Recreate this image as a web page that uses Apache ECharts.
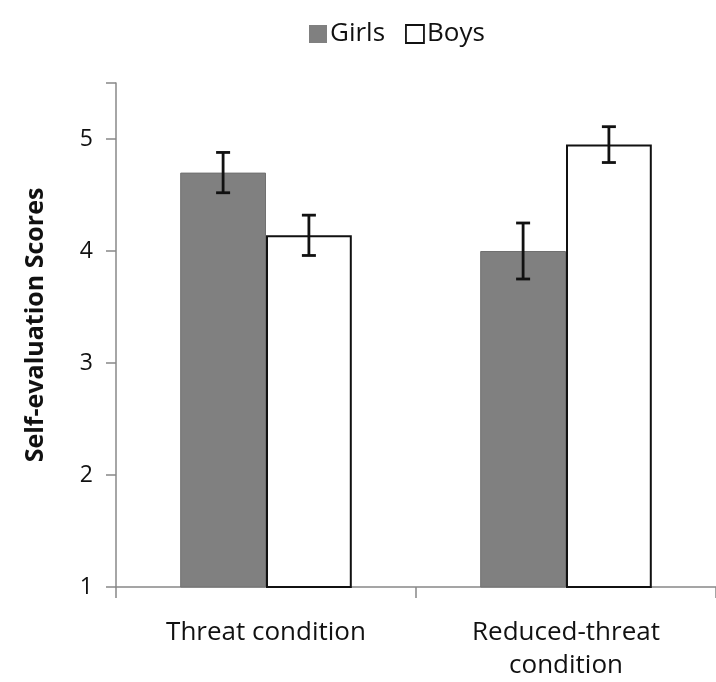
<!DOCTYPE html>
<html>
<head>
<meta charset="utf-8">
<script src="https://cdn.jsdelivr.net/npm/echarts@6/dist/echarts.min.js"></script>
<style>html,body{margin:0;padding:0;background:#fff;}#c{width:716px;height:682px;}</style>
</head>
<body>
<div id="c"></div>
<script>
var categories = ['Threat condition', 'Reduced-threat\ncondition'];
var girls = [4.70, 4.00];
var boys = [4.14, 4.95];
var girlsErr = [0.18, 0.25];
var boysErr = [0.18, 0.16];
var yTicks = [1, 2, 3, 4, 5];

var FONT = '"Open Sans", "Liberation Sans", sans-serif';
var BAR_FRAC = 0.286;

function errSeries(name, vals, errs, side) {
  return {
    type: 'custom',
    name: name + ' err',
    z: 10,
    silent: true,
    data: vals.map(function (v, i) { return [i, v - errs[i], v + errs[i]]; }),
    renderItem: function (params, api) {
      var i = api.value(0);
      var lo = api.coord([i, api.value(1)]);
      var hi = api.coord([i, api.value(2)]);
      var bw = api.size([1, 0])[0] * BAR_FRAC;
      var x = lo[0] + side * bw / 2;
      var cap = 7;
      var st = { stroke: '#111', lineWidth: 2.8 };
      return {
        type: 'group',
        children: [
          { type: 'line', shape: { x1: x, y1: lo[1], x2: x, y2: hi[1] }, style: st },
          { type: 'line', shape: { x1: x - cap, y1: lo[1], x2: x + cap, y2: lo[1] }, style: st },
          { type: 'line', shape: { x1: x - cap, y1: hi[1], x2: x + cap, y2: hi[1] }, style: st }
        ]
      };
    }
  };
}

var chart = echarts.init(document.getElementById('c'), null, { renderer: 'canvas' });
chart.setOption({
  animation: false,
  backgroundColor: '#fff',
  legend: {
    top: 16,
    left: 304,
    itemWidth: 18,
    itemHeight: 18,
    itemGap: 20,
    textStyle: { fontFamily: FONT, fontSize: 26, color: '#111', padding: [0, 0, 0, -2] },
    data: [
      { name: 'Girls', icon: 'rect', itemStyle: { color: '#808080', borderColor: '#808080', borderWidth: 0 } },
      { name: 'Boys', icon: 'rect', itemStyle: { color: '#fff', borderColor: '#111', borderWidth: 1.8 } }
    ]
  },
  grid: { left: 116, right: -4, top: 83, bottom: 88, containLabel: false },
  xAxis: {
    type: 'category',
    data: categories,
    axisLine: { lineStyle: { color: '#888', width: 1.5 } },
    axisTick: { show: true, length: 11, lineStyle: { color: '#888', width: 1.5 } },
    axisLabel: { fontFamily: FONT, fontSize: 26, color: '#111', margin: 29, lineHeight: 33 }
  },
  yAxis: {
    type: 'value',
    min: 1,
    max: 5.5,
    interval: 1,
    name: 'Self-evaluation Scores',
    nameLocation: 'middle',
    nameGap: 68,
    nameTextStyle: { fontFamily: FONT, fontSize: 25, fontWeight: 'bold', color: '#111', padding: [0, 0, 0, 20] },
    splitLine: { show: false },
    axisLine: { show: true, lineStyle: { color: '#888', width: 1.5 } },
    axisTick: { show: true, length: 10, lineStyle: { color: '#888', width: 1.5 } },
    axisLabel: {
      fontFamily: FONT, fontSize: 23, color: '#111', margin: 23,
      formatter: function (v) { return yTicks.indexOf(v) >= 0 ? String(v) : ''; }
    }
  },
  series: [
    {
      name: 'Girls', type: 'bar', data: girls, barWidth: (BAR_FRAC * 100) + '%', barGap: '0%',
      itemStyle: { color: '#808080', borderColor: '#707070', borderWidth: 1 }
    },
    {
      name: 'Boys', type: 'bar', data: boys, barWidth: (BAR_FRAC * 100) + '%', barGap: '0%',
      itemStyle: { color: '#fff', borderColor: '#111', borderWidth: 2 }
    },
    errSeries('Girls', girls, girlsErr, -1),
    errSeries('Boys', boys, boysErr, 1)
  ]
});
</script>
</body>
</html>
